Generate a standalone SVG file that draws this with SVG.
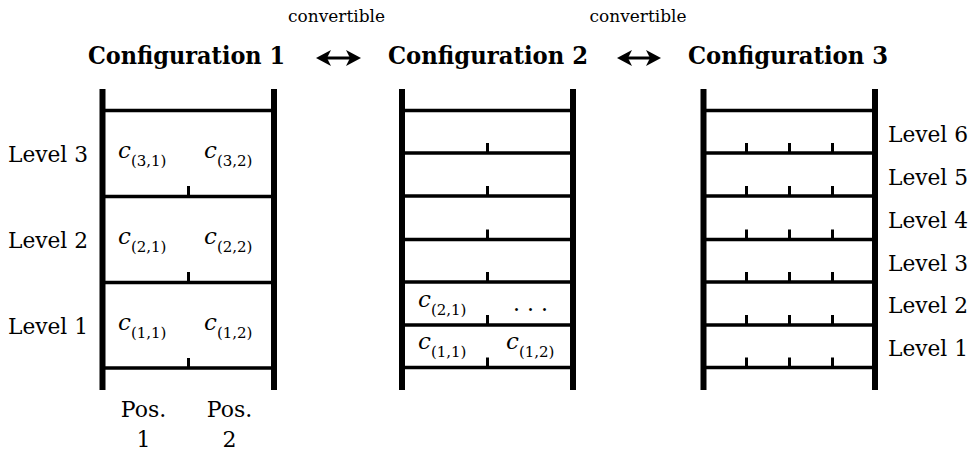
<svg xmlns="http://www.w3.org/2000/svg" width="972" height="453" viewBox="0 0 972 453">
  <style>
    .post { stroke: #000; stroke-width: 6; fill: none; }
    .rung { stroke: #000; stroke-width: 3.3; fill: none; }
    .tick { stroke: #000; stroke-width: 3; fill: none; }
    text { font-family: "DejaVu Serif", "Liberation Serif", serif; fill: #000; }
    .title { font-weight: bold; font-size: 25px; }
    .lbl { font-size: 22px; }
    .small { font-size: 16px; }
    .var { font-style: italic; font-size: 23px; }
    .sub { font-size: 15px; }
  </style>
  <rect width="972" height="453" fill="#fff"/>

  <!-- headings -->
  <g id="titles">
    <text class="title" x="88" y="64" textLength="197" lengthAdjust="spacingAndGlyphs">Configuration 1</text>
    <text class="title" x="388" y="64" textLength="200" lengthAdjust="spacingAndGlyphs">Configuration 2</text>
    <text class="title" x="688" y="64" textLength="200" lengthAdjust="spacingAndGlyphs">Configuration 3</text>
    <text class="small" x="336.5" y="22" text-anchor="middle" textLength="97" lengthAdjust="spacingAndGlyphs">convertible</text>
    <text class="small" x="638" y="22" text-anchor="middle" textLength="97" lengthAdjust="spacingAndGlyphs">convertible</text>
  </g>

  <!-- two-way arrows between configurations -->
  <g id="connectors" fill="#000" stroke="#000">
    <line x1="322" y1="58" x2="355" y2="58" stroke-width="3"/>
    <path d="M316,58 L331,50 L327,58 L331,66 Z" stroke="none"/>
    <path d="M361,58 L346,50 L350,58 L346,66 Z" stroke="none"/>
    <line x1="623" y1="58" x2="655" y2="58" stroke-width="3"/>
    <path d="M617,58 L632,50 L628,58 L632,66 Z" stroke="none"/>
    <path d="M661,58 L646,50 L650,58 L646,66 Z" stroke="none"/>
  </g>

  <!-- Configuration 1: three levels, two positions -->
  <g id="config1">
    <line class="post" x1="102.5" y1="89" x2="102.5" y2="390"/>
    <line class="post" x1="274" y1="89" x2="274" y2="390"/>
    <line class="rung" x1="102" y1="110.5" x2="274" y2="110.5"/>
    <line class="rung" x1="102" y1="196.5" x2="274" y2="196.5"/>
    <line class="rung" x1="102" y1="282.5" x2="274" y2="282.5"/>
    <line class="rung" x1="102" y1="368" x2="274" y2="368"/>
    <line class="tick" x1="188.5" y1="186" x2="188.5" y2="196"/>
    <line class="tick" x1="188.5" y1="272" x2="188.5" y2="282"/>
    <line class="tick" x1="188.5" y1="358" x2="188.5" y2="368"/>
    <text class="lbl" x="8" y="162" textLength="80" lengthAdjust="spacingAndGlyphs">Level 3</text>
    <text class="lbl" x="8" y="248" textLength="80" lengthAdjust="spacingAndGlyphs">Level 2</text>
    <text class="lbl" x="8" y="334" textLength="80" lengthAdjust="spacingAndGlyphs">Level 1</text>
    <text x="118" y="158"><tspan class="var">c</tspan><tspan class="sub" dy="8">(3,1)</tspan></text>
    <text x="204" y="158"><tspan class="var">c</tspan><tspan class="sub" dy="8">(3,2)</tspan></text>
    <text x="118" y="244"><tspan class="var">c</tspan><tspan class="sub" dy="8">(2,1)</tspan></text>
    <text x="204" y="244"><tspan class="var">c</tspan><tspan class="sub" dy="8">(2,2)</tspan></text>
    <text x="118" y="330"><tspan class="var">c</tspan><tspan class="sub" dy="8">(1,1)</tspan></text>
    <text x="204" y="330"><tspan class="var">c</tspan><tspan class="sub" dy="8">(1,2)</tspan></text>
    <text class="lbl" x="143.5" y="417" text-anchor="middle">Pos.</text>
    <text class="lbl" x="143.5" y="447" text-anchor="middle">1</text>
    <text class="lbl" x="229.5" y="417" text-anchor="middle">Pos.</text>
    <text class="lbl" x="229.5" y="447" text-anchor="middle">2</text>
  </g>

  <!-- Configuration 2: six levels, one split per level -->
  <g id="config2">
    <line class="post" x1="402" y1="89" x2="402" y2="390"/>
    <line class="post" x1="573" y1="89" x2="573" y2="390"/>
    <line class="rung" x1="402" y1="110.5" x2="573" y2="110.5"/>
    <line class="rung" x1="402" y1="153" x2="573" y2="153"/>
    <line class="rung" x1="402" y1="196" x2="573" y2="196"/>
    <line class="rung" x1="402" y1="239.5" x2="573" y2="239.5"/>
    <line class="rung" x1="402" y1="282" x2="573" y2="282"/>
    <line class="rung" x1="402" y1="325" x2="573" y2="325"/>
    <line class="rung" x1="402" y1="367.5" x2="573" y2="367.5"/>
    <line class="tick" x1="487.5" y1="143" x2="487.5" y2="153"/>
    <line class="tick" x1="487.5" y1="186" x2="487.5" y2="196"/>
    <line class="tick" x1="487.5" y1="229.5" x2="487.5" y2="239.5"/>
    <line class="tick" x1="487.5" y1="272" x2="487.5" y2="282"/>
    <line class="tick" x1="487.5" y1="315" x2="487.5" y2="325"/>
    <line class="tick" x1="487.5" y1="357.5" x2="487.5" y2="367.5"/>
    <text x="418" y="307"><tspan class="var">c</tspan><tspan class="sub" dy="8">(2,1)</tspan></text>
    <text class="lbl" x="530.5" y="311" text-anchor="middle">. . .</text>
    <text x="418" y="349"><tspan class="var">c</tspan><tspan class="sub" dy="8">(1,1)</tspan></text>
    <text x="506" y="349"><tspan class="var">c</tspan><tspan class="sub" dy="8">(1,2)</tspan></text>
  </g>

  <!-- Configuration 3: six levels, four positions -->
  <g id="config3">
    <line class="post" x1="703.5" y1="89" x2="703.5" y2="390"/>
    <line class="post" x1="875" y1="89" x2="875" y2="390"/>
    <line class="rung" x1="703" y1="110.5" x2="875" y2="110.5"/>
    <line class="rung" x1="703" y1="153" x2="875" y2="153"/>
    <line class="rung" x1="703" y1="196" x2="875" y2="196"/>
    <line class="rung" x1="703" y1="239.5" x2="875" y2="239.5"/>
    <line class="rung" x1="703" y1="282" x2="875" y2="282"/>
    <line class="rung" x1="703" y1="325" x2="875" y2="325"/>
    <line class="rung" x1="703" y1="367.5" x2="875" y2="367.5"/>
    <g class="tick">
      <path d="M746.5,143v10M789.5,143v10M832.5,143v10"/>
      <path d="M746.5,186v10M789.5,186v10M832.5,186v10"/>
      <path d="M746.5,229.5v10M789.5,229.5v10M832.5,229.5v10"/>
      <path d="M746.5,272v10M789.5,272v10M832.5,272v10"/>
      <path d="M746.5,315v10M789.5,315v10M832.5,315v10"/>
      <path d="M746.5,357.5v10M789.5,357.5v10M832.5,357.5v10"/>
    </g>
    <text class="lbl" x="888" y="142" textLength="80" lengthAdjust="spacingAndGlyphs">Level 6</text>
    <text class="lbl" x="888" y="185" textLength="80" lengthAdjust="spacingAndGlyphs">Level 5</text>
    <text class="lbl" x="888" y="228" textLength="80" lengthAdjust="spacingAndGlyphs">Level 4</text>
    <text class="lbl" x="888" y="271" textLength="80" lengthAdjust="spacingAndGlyphs">Level 3</text>
    <text class="lbl" x="888" y="313" textLength="80" lengthAdjust="spacingAndGlyphs">Level 2</text>
    <text class="lbl" x="888" y="356" textLength="80" lengthAdjust="spacingAndGlyphs">Level 1</text>
  </g>
</svg>
